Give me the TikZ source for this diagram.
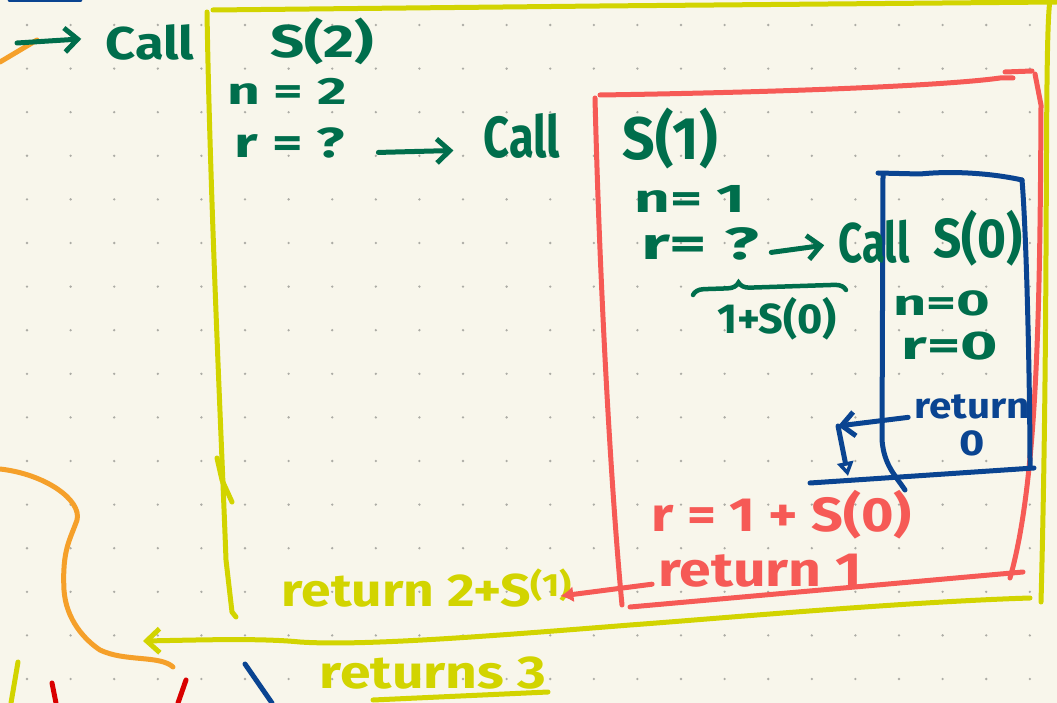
\documentclass[tikz,border=0pt]{standalone}
\usepackage{fontspec}
\setmainfont{Fira Sans}
\usetikzlibrary{arrows.meta, decorations.pathreplacing}

\definecolor{paper}{RGB}{248,246,235}
\definecolor{dotgrey}{RGB}{172,172,165}
\definecolor{inkgreen}{RGB}{0,110,76}
\definecolor{inkyellow}{RGB}{210,212,0}
\definecolor{inkred}{RGB}{246,90,86}
\definecolor{inkblue}{RGB}{10,68,145}
\definecolor{inkorange}{RGB}{245,160,42}

\begin{document}
\begin{tikzpicture}[
        x=1pt, y=-1pt,
        pen/.style={line width=5pt, line cap=round, line join=round},
        txt/.style={inner sep=0pt, anchor=base, font=\fontsize{#1}{#1}\selectfont\bfseries},
        barb/.style={-{Straight Barb[length=13pt, width=24pt, line width=5pt]}}
    ]
        % paper and dot grid
        \fill[paper] (0,0) rectangle (1057,703);
        \useasboundingbox (0,0) rectangle (1057,703);
        \clip (0,0) rectangle (1057,703);
        \foreach \i in {0,...,23}
            \foreach \j in {0,...,15}
                \fill[dotgrey] (27+43.6*\i, 25+43.6*\j) circle (1.3pt);

        % strokes from the rest of the page
        \draw[pen, inkblue] (10,0) -- (80,0);
        \draw[pen, inkorange] (0,62) -- (37,40);
        \draw[pen, inkorange] (0,469) .. controls (45,474) and (82,500) .. (77,520)
            .. controls (70,540) and (62,550) .. (64,590)
            .. controls (66,620) and (85,640) .. (100,650)
            .. controls (125,662) and (160,655) .. (173,667);
        \draw[pen, inkyellow] (18,662) -- (11,703);
        \draw[pen, red!85!black] (52,683) -- (56,703);
        \draw[pen, red!85!black] (186,680) -- (178,703);
        \draw[pen, inkblue] (245,664) -- (272,703);

        % S(2) frame
        \draw[pen, inkyellow] (207,12) .. controls (210,200) and (222,450) .. (226,560) -- (232,612) -- (236,617);
        \draw[pen, inkyellow] (217,458) -- (222,480) -- (232,502);
        \draw[pen, inkyellow] (213,10) -- (600,6) -- (1057,2);
        \draw[pen, inkyellow] (1050,0) .. controls (1044,40) and (1049,300) .. (1041,602);
        \coordinate (backTwo) at (143,641);
        \draw[pen, inkyellow, barb] (1030,598) .. controls (900,602) and (700,620) .. (630,625)
            .. controls (480,637) and (360,646) .. (300,642)
            .. controls (260,638) and (200,640) .. (backTwo);

        % S(1) frame
        \draw[pen, inkred] (600,95) .. controls (800,92) and (950,85) .. (1000,78) -- (1013,78);
        \draw[pen, inkred] (1005,72) -- (1032,71);
        \draw[pen, inkred] (595,98) .. controls (600,300) and (612,500) .. (622,605);
        \draw[pen, inkred] (1035,74) -- (1041,105) .. controls (1040,300) and (1038,480) .. (1010,578);
        \draw[pen, inkred] (630,607) -- (1023,572);

        % S(0) frame
        \draw[pen, inkblue] (878,173) -- (920,174) .. controls (960,170) and (1000,175) .. (1022,180);
        \draw[pen, inkblue] (1022,180) .. controls (1027,240) and (1030,400) .. (1030,466);
        \draw[pen, inkblue] (883,175) -- (882,440) .. controls (884,465) and (895,475) .. (905,490);
        \draw[pen, inkblue] (810,483) -- (900,477) -- (1034,468);

        % outer call
        \node[txt=46, xscale=1.14, inkgreen] (callTwo) at (150,60) {Call};
        \node[txt=46, xscale=1.3, inkgreen] (sTwo) at (322,58) {S(2)};
        \node[txt=38, xscale=1.5, inkgreen] (nTwo) at (287,105) {n = 2};
        \node[txt=42, xscale=1.4, inkgreen] (rTwo) at (290,158) {r = ?};
        \coordinate (inTwo) at (17,43);
        \draw[pen, inkgreen, barb] (inTwo) -- ([xshift=-24pt, yshift=4pt]callTwo.west);

        % middle call
        \node[txt=58, xscale=0.78, inkgreen] (callOne) at (522,158) {Call};
        \node[txt=60, xscale=0.95, inkgreen] (sOne) at (670,160) {S(1)};
        \node[txt=40, xscale=1.55, inkgreen] (nOne) at (690,213) {n= 1};
        \node[txt=45, xscale=1.6, inkgreen] (rOne) at (700,260) {r= ?};
        \draw[pen, inkgreen, barb] ([xshift=33pt, yshift=-9pt]rTwo.east) -- ([xshift=-30pt, yshift=-14pt]callOne.west);

        % inner call
        \node[txt=56, xscale=0.75, inkgreen] (callZero) at (874,262) {Call};
        \node[txt=55, xscale=0.9, inkgreen] (sZero) at (978,258) {S(0)};
        \draw[pen, inkgreen, barb] ([xshift=12pt, yshift=-8pt]rOne.east) -- ([xshift=-14pt, yshift=-4pt]callZero.west);
        \coordinate (braceL) at (693,295);
        \coordinate (braceR) at (846,290);
        \draw[line width=4.5pt, line cap=round, inkgreen, decorate,
            decoration={brace, amplitude=11pt, aspect=0.3}] (braceL) -- (braceR);
        \node[txt=42, xscale=1.03, inkgreen] (sumZero) at (777,333) {1+S(0)};
        \node[txt=36, xscale=1.6, inkgreen] (nZero) at (942,316) {n=0};
        \node[txt=40, xscale=1.6, inkgreen] (rZero) at (950,359) {r=0};
        \node[txt=36, xscale=1.12, inkblue] (retZero) at (972,418) {return};
        \node[txt=36, xscale=1.2, inkblue] (valZero) at (972,455) {0};

        % back in S(1)
        \node[txt=48, xscale=1.16, inkred] (rSum) at (782,531) {r = 1 + S(0)};
        \node[txt=48, xscale=1.19, inkred] (retOne) at (760,586) {return 1};
        \coordinate (bendZero) at (838,426);
        \coordinate (dropZero) at (848,476);
        \draw[pen, inkblue, barb] ([xshift=-6pt, yshift=-11pt]retZero.west) -- (bendZero);
        \draw[pen, inkblue, -{Triangle[open, length=14pt, width=16pt, line width=4pt]}] (bendZero) -- (dropZero);

        % back in S(2)
        \node[txt=46, xscale=1.16, inkyellow] (retTwo) at (427,606) {return 2+S\textsuperscript{(1)}};
        \draw[pen, inkred, -{Latex[length=13pt, width=16pt]}] ([xshift=-6pt, yshift=-14pt]retOne.west) -- ([xshift=-12pt, yshift=-8pt]retTwo.east);
        \node[txt=46, xscale=1.2, inkyellow] (retThree) at (433,688) {returns 3};
        \coordinate (lineStart) at (373,700);
        \coordinate (lineEnd) at (548,692);
        \draw[pen, inkyellow] (lineStart) -- (lineEnd);
    \end{tikzpicture}
\end{document}
